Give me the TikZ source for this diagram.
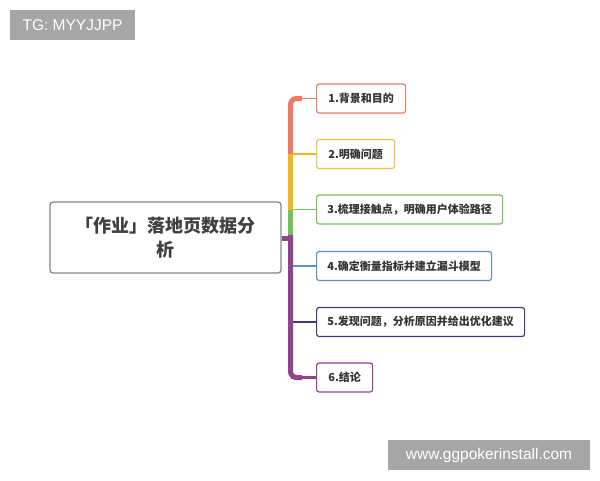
\documentclass[tikz,border=0pt]{standalone}
\usepackage{fontspec}
\setmainfont{Liberation Sans}
\newfontfamily\cjk{Noto Sans CJK SC}
\begin{document}
\begin{tikzpicture}[x=1pt,y=-1pt,
  leaf/.style={draw, rounded corners=2.5pt, line width=1.2pt, fill=white, anchor=west,
    minimum height=29pt, inner sep=0pt, text=black!80, font=\cjk\bfseries\fontsize{11}{13}\selectfont},
  mark box/.style={fill=black!35, text=white, inner sep=0pt, font=\fontsize{15.5}{18}\selectfont},
  trunk/.style={line width=5pt, line cap=round},
  twig/.style={line width=1.6pt}]
\definecolor{cred}{HTML}{EE7A62}
\definecolor{cyel}{HTML}{F4B41C}
\definecolor{cgrn}{HTML}{72C256}
\definecolor{cblu}{HTML}{5C8FCB}
\definecolor{cnav}{HTML}{3C3A86}
\definecolor{cpur}{HTML}{93428E}
\definecolor{cgray}{HTML}{7D8894}
\useasboundingbox (0,0) rectangle (600,480);
\fill[white] (0,0) rectangle (600,480);

% watermarks
\node[mark box, minimum width=125pt, minimum height=30pt] (wm1) at (72.5,25) {TG: MYYJJPP};
\node[mark box, minimum width=202pt, minimum height=30pt] (wm2) at (489,455) {www.ggpokerinstall.com};

% central node
\node[draw=cgray, line width=1.3pt, rounded corners=3pt, fill=white, minimum width=231pt, minimum height=71pt,
  inner sep=0pt, align=center, text=black!75, font=\cjk\bfseries\fontsize{18}{24}\selectfont]
  (c) at (165.5,237.5) {「作业」落地页数据分\\析};

% leaves
\node[leaf, draw=cred, minimum width=89pt] (n1) at (316,98.5) {1.背景和目的};
\node[leaf, draw=cyel!85, minimum width=78pt] (n2) at (316,154) {2.明确问题};
\node[leaf, draw=cgrn, minimum width=186pt] (n3) at (316,209.5) {3.梳理接触点，明确用户体验路径};
\node[leaf, draw=cblu, minimum width=175pt] (n4) at (316,266) {4.确定衡量指标并建立漏斗模型};
\node[leaf, draw=cnav, minimum width=208pt] (n5) at (316,322) {5.发现问题，分析原因并给出优化建议};
\node[leaf, draw=cpur, minimum width=56pt] (n6) at (316,377.5) {6.结论};

\coordinate (t1) at (290.5,98.5);
\coordinate (t2) at (290.5,154);
\coordinate (t3) at (290.5,209.5);
\coordinate (t4) at (290.5,238);
\coordinate (t6) at (290.5,377.5);

% twigs
\draw[twig, cred] (t1) -- (n1.west);
\draw[twig, cyel] (t2) -- (n2.west);
\draw[twig, cgrn] (t3) -- (n3.west);
\draw[twig, cblu] (290.5,266) -- (n4.west);
\draw[twig, cnav] (290.5,322) -- (n5.west);
\draw[line width=2.8pt, cpur] (t6) -- (n6.west);

% trunk
\draw[line width=5pt, cred, rounded corners=6pt] (302,98.5) -- (t1) -- (t2);
\draw[line width=5pt, cyel] (t2) -- (t3);
\draw[line width=5pt, cgrn] (t3) -- (290.5,236);
\draw[line width=5pt, cpur, rounded corners=6pt] (290.5,235) -- (t6) -- (302,377.5);
\draw[line width=5pt, cpur] (c.east |- t4) -- (t4);
\end{tikzpicture}
\end{document}
